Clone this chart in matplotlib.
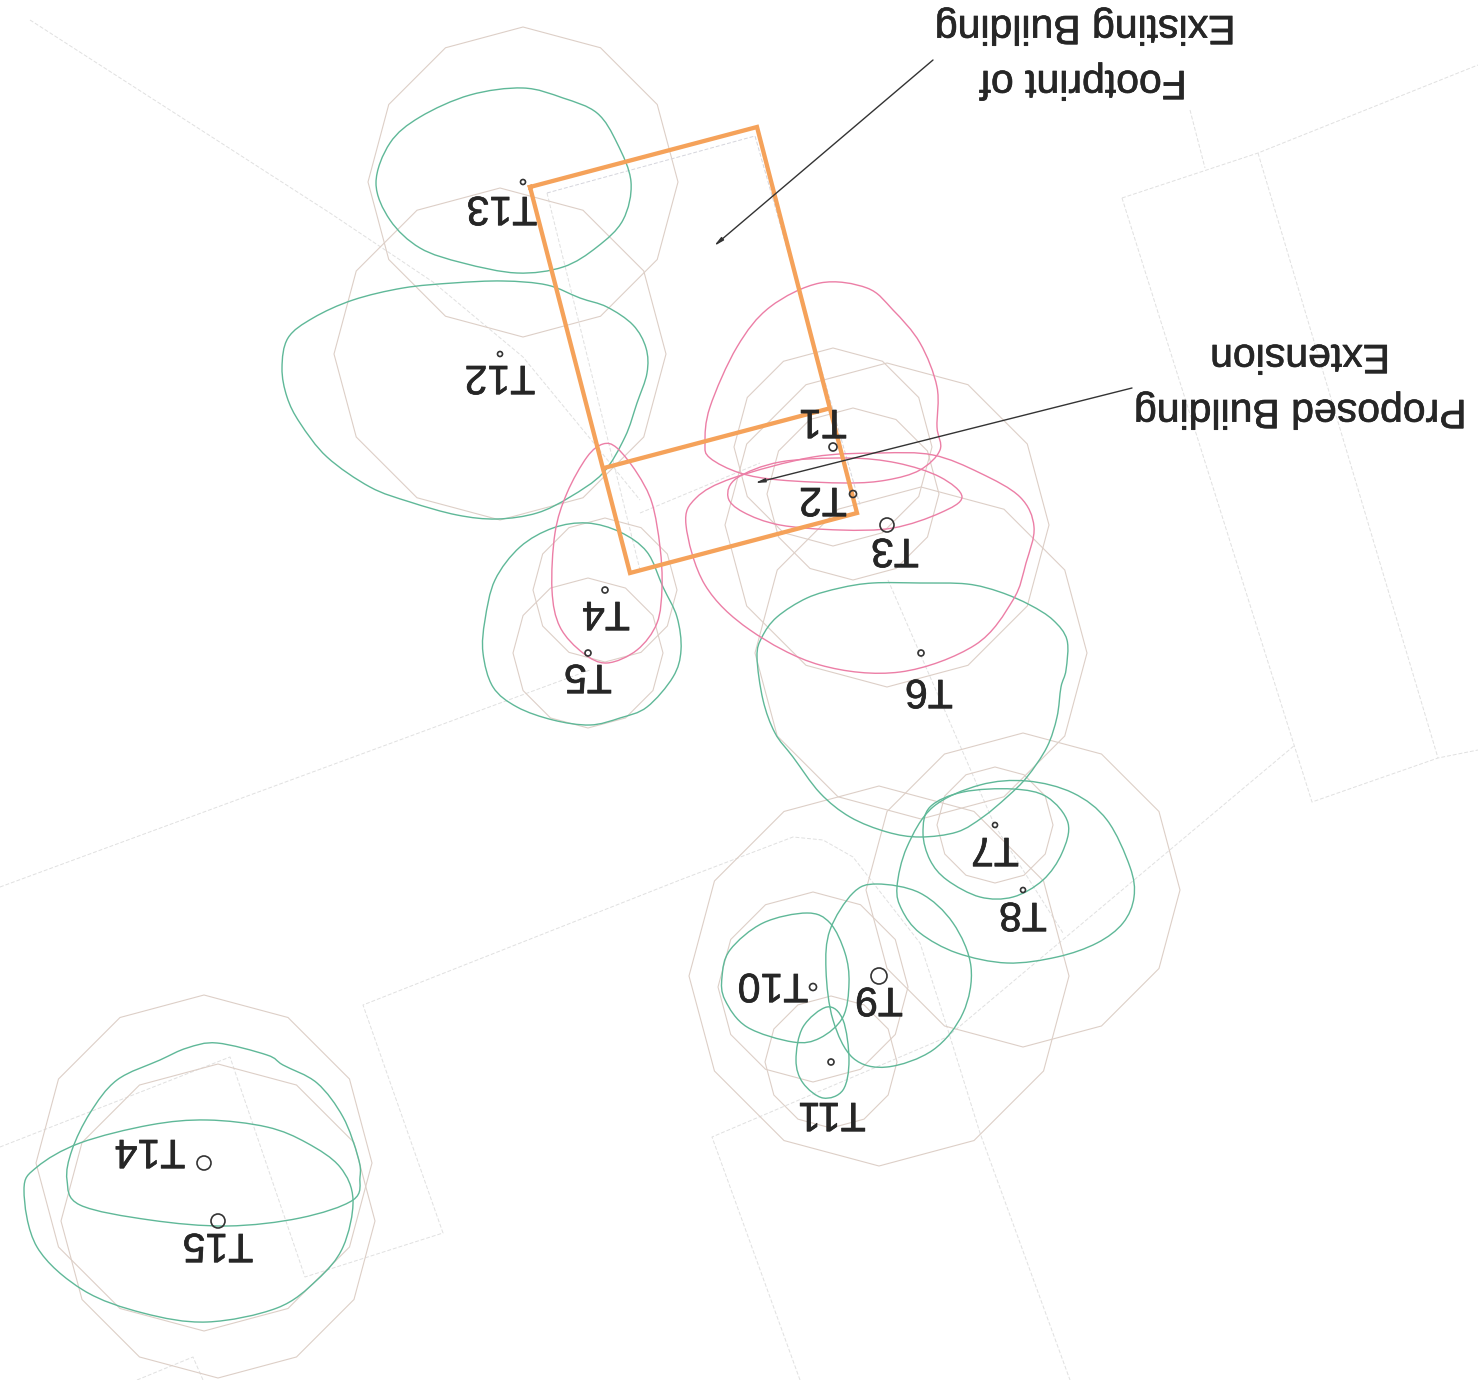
"""Tree constraints plan (scanned upside down): crowns, root protection areas, footprint."""
import matplotlib
matplotlib.use("Agg")
import matplotlib.pyplot as plt
import matplotlib.patheffects as pe
from matplotlib.patches import PathPatch, RegularPolygon, Circle
from matplotlib.path import Path

plt.rcParams["font.family"] = ["Liberation Sans", "DejaVu Sans"]

# tree tags, stem positions, stem radius, root protection radius, label position
tree_tags = ["T1", "T2", "T3", "T4", "T5", "T6", "T7", "T8", "T9", "T10", "T11", "T12", "T13", "T14", "T15"]
stem_x = [833, 853, 887, 605, 588, 921, 995, 1023, 879, 813, 831, 500, 523, 204, 218]
stem_y = [447, 494, 525, 590, 653, 653, 825, 890, 976, 987, 1062, 354, 182, 1163, 1221]
stem_r = [4, 3.5, 7, 3, 3, 3, 2.5, 2.5, 8, 3.5, 3, 2.5, 2.5, 7, 7]
rpa_r = [99, 86, 162, 72, 75, 166, 58, 157, 190, 95, 66, 166, 155, 168, 157]
label_x = [823, 823, 895, 606, 588, 929, 995, 1023, 879, 773, 832, 500, 502, 150, 218]
label_y = [421, 499, 550, 613, 676, 691, 849, 914, 999, 985, 1114, 377, 208, 1151, 1245]

# crown spreads
crown_t1 = [(705, 443), (710, 407), (737, 347), (770, 307), (820, 283), (867, 288), (893, 310), (920, 343), (937, 387),
            (937, 427), (940, 450), (920, 470), (887, 480), (847, 483), (780, 480), (740, 473), (710, 458)]
crown_t2 = [(728, 497), (737, 478), (780, 462), (847, 458), (897, 463), (940, 477), (962, 497), (940, 513), (893, 528),
            (840, 530), (780, 525), (743, 512)]
crown_t3 = [(686, 525), (696, 498), (733, 478), (813, 457), (880, 453), (933, 455), (980, 473), (1020, 497), (1034, 527),
            (1026, 563), (1013, 600), (975, 645), (900, 672), (820, 665), (750, 630), (705, 585)]
crown_t4 = [(552, 590), (555, 533), (567, 493), (587, 457), (603, 444), (617, 448), (637, 473), (652, 503), (660, 547),
            (662, 587), (657, 623), (637, 650), (607, 663), (583, 653), (560, 627)]
crown_t5 = [(483, 653), (485, 620), (495, 580), (520, 547), (553, 528), (587, 523), (620, 532), (647, 552), (663, 587),
            (677, 617), (681, 650), (673, 677), (647, 707), (620, 718), (590, 725), (553, 720), (517, 707), (493, 687)]
crown_t6 = [(757, 657), (762, 637), (777, 617), (807, 598), (840, 588), (873, 583), (920, 583), (967, 584), (1000, 592),
            (1030, 605), (1053, 620), (1067, 640), (1066, 670), (1061, 687), (1057, 717), (1047, 747), (1027, 777), (1007, 797),
            (983, 817), (957, 832), (920, 837), (887, 832), (850, 817), (820, 793), (793, 757), (775, 733), (763, 700)]
crown_t7 = [(923, 833), (930, 807), (963, 792), (1013, 789), (1047, 797), (1068, 823), (1062, 853), (1043, 880), (1013, 897),
            (980, 897), (947, 880), (930, 860)]
crown_t8 = [(897, 887), (907, 847), (933, 807), (980, 785), (1027, 781), (1073, 793), (1107, 820), (1130, 867), (1134, 897),
            (1123, 923), (1097, 943), (1057, 957), (1007, 963), (957, 953), (920, 933), (902, 910)]
crown_t9 = [(826, 970), (830, 930), (853, 893), (877, 884), (920, 893), (953, 923), (971, 967), (963, 1013), (933, 1050),
            (887, 1067), (853, 1058), (833, 1020)]
crown_t10 = [(722, 977), (730, 950), (763, 923), (807, 913), (830, 923), (845, 953), (849, 983), (843, 1017), (820, 1038),
             (793, 1042), (747, 1027), (725, 1000)]
crown_t11 = [(796, 1060), (803, 1027), (827, 1007), (843, 1020), (849, 1060), (843, 1090), (823, 1098), (803, 1083)]
crown_t12 = [(282, 368), (288, 338), (313, 318), (353, 300), (403, 288), (453, 283), (503, 281), (547, 285), (580, 298),
             (607, 307), (633, 325), (646, 348), (647, 373), (637, 403), (625, 437), (603, 473), (570, 497), (537, 513),
             (497, 519), (457, 515), (410, 502), (370, 487), (327, 457), (300, 423), (287, 397)]
crown_t13 = [(376, 183), (390, 143), (420, 117), (470, 95), (523, 88), (563, 98), (597, 113), (617, 143), (631, 182),
             (623, 220), (597, 247), (563, 267), (517, 273), (463, 263), (420, 248), (390, 220)]
crown_t14 = [(67, 1180), (72, 1150), (90, 1113), (117, 1080), (160, 1060), (187, 1048), (217, 1043), (267, 1055), (283, 1065),
             (317, 1083), (343, 1117), (358, 1157), (360, 1177), (353, 1200), (300, 1218), (227, 1226), (150, 1220), (80, 1205)]
crown_t15 = [(24, 1190), (37, 1167), (80, 1143), (150, 1125), (207, 1120), (267, 1127), (307, 1143), (340, 1167), (353, 1200),
             (343, 1247), (317, 1280), (277, 1308), (207, 1322), (143, 1313), (83, 1290), (37, 1247)]
pink_crowns = [crown_t1, crown_t2, crown_t3, crown_t4]
green_crowns = [crown_t5, crown_t6, crown_t7, crown_t8, crown_t9, crown_t10, crown_t11, crown_t12, crown_t13, crown_t14, crown_t15]

# building footprint and extension
footprint = [(530, 187), (757, 127), (857, 513), (630, 573), (530, 187)]
extension_line = [(604, 468), (831, 408)]
inner_outline = [(547, 193), (755, 136), (860, 505)]

# faint site linework
site_lines = [
    [(547, 193), (640, 570)],
    [(1122, 198), (1258, 153), (1478, 65)],
    [(1122, 198), (1312, 802), (1438, 758), (1478, 750)],
    [(1258, 153), (1438, 758)],
    [(1190, 110), (1205, 168)],
    [(0, 887), (590, 670)],
    [(640, 513), (760, 463)],
    [(0, 1147), (230, 1057), (305, 1277), (443, 1233), (363, 1005), (680, 880), (793, 837), (823, 840), (853, 857),
     (920, 943), (947, 1027), (980, 1133), (1070, 1380)],
    [(137, 1380), (193, 1357), (203, 1380)],
    [(800, 1380), (712, 1137), (947, 1037), (1047, 953), (1295, 745)],
    [(888, 580), (995, 826), (1063, 933)],
    [(30, 20), (330, 213), (433, 282), (523, 357), (597, 447), (640, 500)],
]

# callouts: text, position, and leader end points
note_text = ["Existing Building", "Footprint of", "Proposed Building", "Extension"]
note_x = [1085, 1083, 1300, 1300]
note_y = [27, 82, 411, 356]
leader_start = [(933, 60), (1132, 388)]
leader_end = [(714, 246), (755, 483)]

GREEN = "#5fb898"
PINK = "#ec7ea6"
TAN = "#ddcfc7"
ORANGE = "#f5a25a"
INK = "#262626"


def closed_smooth(points):
    # closed Catmull-Rom run through the picked points, as Bezier segments
    n = len(points)
    verts = [points[0]]
    codes = [Path.MOVETO]
    for i in range(n):
        p0, p1, p2, p3 = points[i - 1], points[i], points[(i + 1) % n], points[(i + 2) % n]
        c1 = (p1[0] + (p2[0] - p0[0]) / 6, p1[1] + (p2[1] - p0[1]) / 6)
        c2 = (p2[0] - (p3[0] - p1[0]) / 6, p2[1] - (p3[1] - p1[1]) / 6)
        verts += [c1, c2, p2]
        codes += [Path.CURVE4] * 3
    return Path(verts, codes)


fig = plt.figure(figsize=(14.78, 13.8), dpi=100)
ax = fig.add_axes([0, 0, 1, 1])
ax.set_xlim(0, 1478)
ax.set_ylim(1380, 0)
ax.axis("off")

for line in site_lines:
    xs, ys = zip(*line)
    ax.plot(xs, ys, color="#e0e0e0", lw=0.7, ls=(0, (4, 2)), zorder=1)

for x, y, r in zip(stem_x, stem_y, rpa_r):
    ax.add_patch(RegularPolygon((x, y), 12, radius=r, fill=False, ec=TAN, lw=0.8, zorder=2))

xs, ys = zip(*inner_outline)
ax.plot(xs, ys, color="#d5d5dc", lw=0.7, ls=(0, (4, 2)), zorder=2)

for crown in green_crowns:
    ax.add_patch(PathPatch(closed_smooth(crown), fill=False, ec=GREEN, lw=1.0, zorder=3))
for crown in pink_crowns:
    ax.add_patch(PathPatch(closed_smooth(crown), fill=False, ec=PINK, lw=1.0, zorder=3))

xs, ys = zip(*footprint)
ax.plot(xs, ys, color=ORANGE, lw=3.1, solid_joinstyle="miter", zorder=4)
xs, ys = zip(*extension_line)
ax.plot(xs, ys, color=ORANGE, lw=3.1, solid_capstyle="butt", zorder=4)

for x, y, r in zip(stem_x, stem_y, stem_r):
    ax.add_patch(Circle((x, y), r, fill=False, ec="#333333", lw=1.2, zorder=5))

heavier = [pe.withStroke(linewidth=0.5, foreground=INK)]
for tag, x, y in zip(tree_tags, label_x, label_y):
    ax.text(x, y, tag, rotation=180, fontsize=29.5, color=INK, ha="center", va="center", zorder=6, path_effects=heavier)

for text, x, y in zip(note_text, note_x, note_y):
    ax.text(x, y, text, rotation=180, fontsize=29.5, color=INK, ha="center", va="center", zorder=6, path_effects=heavier)

for start, end in zip(leader_start, leader_end):
    ax.annotate("", xy=end, xytext=start, zorder=6,
                arrowprops=dict(arrowstyle="-|>,head_length=0.5,head_width=0.1", color="#333333", lw=1.0,
                                shrinkA=0, shrinkB=0, mutation_scale=11))

fig.savefig("out.png", dpi=100, facecolor="white")
plt.close(fig)
